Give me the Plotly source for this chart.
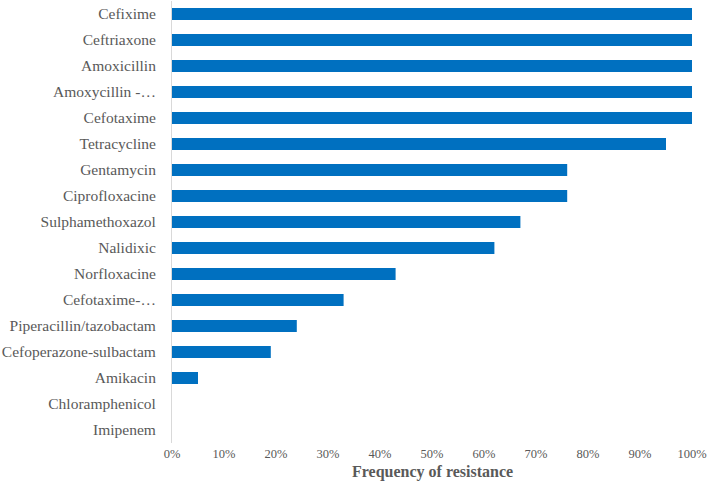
import plotly.graph_objs as go

# Data (top to bottom as shown in the chart)
antibiotics = [
    "Cefixime",
    "Ceftriaxone",
    "Amoxicillin",
    "Amoxycillin -…",
    "Cefotaxime",
    "Tetracycline",
    "Gentamycin",
    "Ciprofloxacine",
    "Sulphamethoxazol",
    "Nalidixic",
    "Norfloxacine",
    "Cefotaxime-…",
    "Piperacillin/tazobactam",
    "Cefoperazone-sulbactam",
    "Amikacin",
    "Chloramphenicol",
    "Imipenem",
]
resistance = [1.00, 1.00, 1.00, 1.00, 1.00, 0.95, 0.76, 0.76, 0.67, 0.62,
              0.43, 0.33, 0.24, 0.19, 0.05, 0.0, 0.0]
x_ticks = [0, 0.1, 0.2, 0.3, 0.4, 0.5, 0.6, 0.7, 0.8, 0.9, 1.0]

serif = "Times New Roman, Liberation Serif, DejaVu Serif, serif"

# plotly draws the first category at the bottom, so reverse
fig = go.Figure(
    go.Bar(
        x=resistance[::-1],
        y=antibiotics[::-1],
        orientation="h",
        marker=dict(color="#0070C0", line=dict(width=0)),
        hoverinfo="skip",
    )
)

fig.update_layout(
    width=709,
    height=483,
    bargap=0.54,
    showlegend=False,
    plot_bgcolor="white",
    paper_bgcolor="white",
    margin=dict(l=172, r=17, t=1, b=40),
    font=dict(family=serif, size=14, color="#595959"),
)

fig.update_xaxes(
    range=[0, 1.0],
    tickvals=x_ticks,
    tickformat=".0%",
    showgrid=False,
    zeroline=False,
    showline=False,
    ticks="",
    automargin=False,
    ticklabelstandoff=1,
    tickfont=dict(size=12.5),
)

fig.update_yaxes(
    showgrid=False,
    zeroline=False,
    showline=True,
    linecolor="#D9D9D9",
    linewidth=1,
    ticks="",
    automargin=False,
    ticklabelstandoff=12,
    tickfont=dict(size=15.5),
)

# axis title as an annotation so it sits just under the tick labels
fig.add_annotation(
    text="<b>Frequency of resistance</b>",
    xref="paper", yref="paper",
    x=0.5, y=-0.066,
    xanchor="center", yanchor="middle",
    showarrow=False,
    font=dict(size=16, color="#595959"),
)

# drop the default page margin so the figure sits at the window's corner
fig.write_html(
    "out.html",
    config={"displayModeBar": False},
    post_script="document.body.style.margin='0';",
)
